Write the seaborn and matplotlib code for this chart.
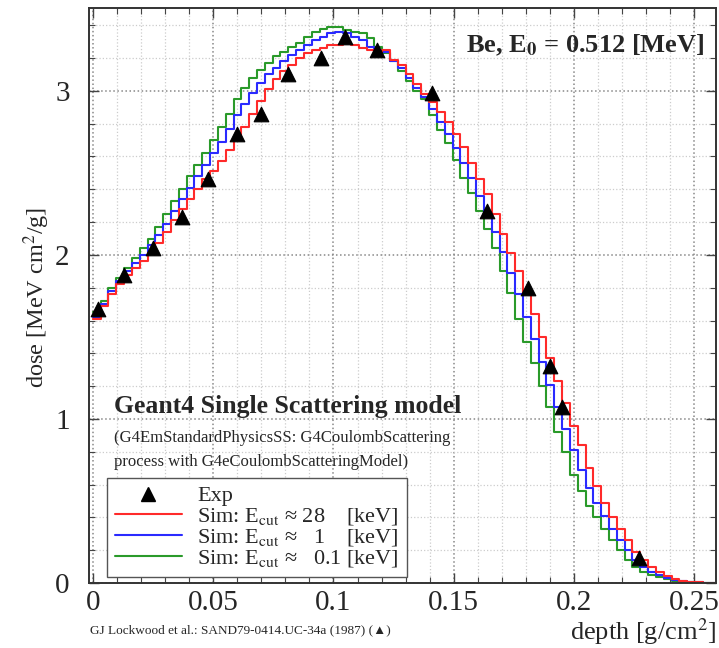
import numpy as np
import pandas as pd
import matplotlib
matplotlib.use("Agg")
import matplotlib.pyplot as plt
from matplotlib.lines import Line2D
from matplotlib.ticker import MultipleLocator
import seaborn as sns

# dose histograms, 80 bins over 0-0.26 g/cm2
depth_min, depth_max, n_bins = 0.0, 0.26, 80

dose_28keV = [1.61, 1.69, 1.76, 1.82, 1.88, 1.92, 1.96, 2.01, 2.07, 2.14,
              2.21, 2.28, 2.34, 2.40, 2.46, 2.51, 2.57, 2.64, 2.71, 2.78,
              2.86, 2.94, 3.01, 3.07, 3.12, 3.16, 3.20, 3.23, 3.25, 3.26,
              3.28, 3.28, 3.29, 3.28, 3.26, 3.25, 3.24, 3.25, 3.19, 3.16,
              3.10, 3.04, 2.98, 2.93, 2.87, 2.81, 2.74, 2.66, 2.56, 2.46,
              2.37, 2.25, 2.13, 2.01, 1.90, 1.77, 1.64, 1.50, 1.37, 1.23,
              1.10, 0.96, 0.84, 0.70, 0.59, 0.49, 0.40, 0.33, 0.26, 0.19,
              0.14, 0.10, 0.065, 0.040, 0.025, 0.015, 0.009, 0.005, 0.003, 0.002]

dose_1keV = [1.62, 1.70, 1.78, 1.84, 1.90, 1.95, 2.00, 2.06, 2.12, 2.19,
             2.27, 2.34, 2.41, 2.48, 2.55, 2.62, 2.69, 2.77, 2.85, 2.92,
             2.99, 3.05, 3.10, 3.14, 3.18, 3.22, 3.25, 3.28, 3.31, 3.33,
             3.35, 3.36, 3.35, 3.33, 3.31, 3.27, 3.25, 3.24, 3.18, 3.14,
             3.08, 3.02, 2.96, 2.89, 2.81, 2.74, 2.65, 2.56, 2.47, 2.36,
             2.26, 2.14, 2.02, 1.89, 1.76, 1.62, 1.49, 1.35, 1.21, 1.07,
             0.94, 0.81, 0.69, 0.58, 0.49, 0.41, 0.33, 0.26, 0.20, 0.14,
             0.10, 0.07, 0.05, 0.03, 0.02, 0.012, 0.007, 0.004, 0.002, 0.001]

dose_01keV = [1.65, 1.72, 1.80, 1.86, 1.92, 1.98, 2.04, 2.10, 2.17, 2.25,
              2.33, 2.40, 2.48, 2.55, 2.62, 2.70, 2.78, 2.86, 2.95, 3.02,
              3.08, 3.13, 3.17, 3.21, 3.24, 3.27, 3.29, 3.33, 3.36, 3.38,
              3.39, 3.39, 3.37, 3.36, 3.35, 3.32, 3.27, 3.23, 3.18, 3.12,
              3.06, 3.00, 2.95, 2.85, 2.76, 2.68, 2.58, 2.47, 2.38, 2.27,
              2.16, 2.04, 1.90, 1.77, 1.61, 1.47, 1.34, 1.20, 1.07, 0.92,
              0.80, 0.66, 0.56, 0.47, 0.40, 0.33, 0.26, 0.20, 0.14, 0.10,
              0.07, 0.05, 0.035, 0.022, 0.014, 0.009, 0.005, 0.003, 0.002, 0.001]

# experiment (Lockwood et al.)
exp_depth = [0.002, 0.013, 0.025, 0.037, 0.048, 0.060, 0.070, 0.081, 0.095,
             0.105, 0.118, 0.141, 0.164, 0.181, 0.190, 0.195, 0.227]
exp_dose = [1.67, 1.88, 2.04, 2.23, 2.46, 2.74, 2.86, 3.10, 3.20,
            3.33, 3.25, 2.99, 2.27, 1.80, 1.32, 1.07, 0.15]

sim_labels = [r"Sim: E$_{\rm cut}$ ≈ 28    [keV]",
              r"Sim: E$_{\rm cut}$ ≈   1    [keV]",
              r"Sim: E$_{\rm cut}$ ≈   0.1 [keV]"]
sim_colors = ["#ff2a2a", "#2a2aff", "#2a9a2a"]

sns.set_style("ticks")
plt.rcParams['font.family'] = ['Liberation Serif', 'DejaVu Serif']
plt.rcParams['mathtext.fontset'] = 'stix'

fig = plt.figure(figsize=(7.19, 6.48), dpi=100)
ax = fig.add_axes([0.124, 0.1003, 0.872, 0.8873])

edges = np.linspace(depth_min, depth_max, n_bins + 1)
centers = 0.5 * (edges[:-1] + edges[1:])

# draw green first so red ends up on top like the original
for vals, col in zip([dose_01keV, dose_1keV, dose_28keV], sim_colors[::-1]):
    df = pd.DataFrame({"depth": centers, "dose": vals})
    sns.histplot(data=df, x="depth", weights="dose", bins=n_bins,
                 binrange=(depth_min, depth_max), element="step", fill=False,
                 color=col, linewidth=1.5, ax=ax)

sns.scatterplot(x=exp_depth, y=exp_dose, marker="^", color="black", s=110,
                edgecolor="black", zorder=5, ax=ax)

ax.set_xlim(-0.0015, 0.259)
ax.set_ylim(0, 3.505)
ax.xaxis.set_major_locator(MultipleLocator(0.05))
ax.xaxis.set_minor_locator(MultipleLocator(0.01))
ax.yaxis.set_major_locator(MultipleLocator(1))
ax.yaxis.set_minor_locator(MultipleLocator(0.2))
ax.xaxis.set_major_formatter(lambda v, p: "0" if abs(v) < 1e-9 else f"{v:g}")
ax.tick_params(which="both", direction="in", top=True, right=True, labelsize=21,
               color="#444444")
ax.tick_params(which="major", length=7, width=1)
ax.tick_params(which="minor", length=4, width=0.8)
ax.tick_params(axis="x", pad=5)
ax.tick_params(axis="y", pad=14)
ax.grid(which="major", linestyle=":", color="#888888", linewidth=1.1)
ax.grid(which="minor", linestyle=":", color="#cccccc", linewidth=0.9)
ax.set_axisbelow(True)
for sp in ax.spines.values():
    sp.set_linewidth(1.4)
    sp.set_color("#333333")

ax.set_ylabel(r"dose [MeV cm$^2$/g]", fontsize=17.5)
ax.yaxis.set_label_coords(-0.060, 0.497)
ax.set_xlabel("")
fig.text(0.895, 0.012, r"depth [g/cm$^2$]", fontsize=19, ha="center", va="baseline")
fig.text(0.125, 0.022, "GJ Lockwood et al.: SAND79-0414.UC-34a (1987) (▲)",
         fontsize=9.5, family=['Liberation Serif', 'DejaVu Sans'], va="baseline")

ax.text(0.982, 0.957, r"Be, E$_\mathbf{0}$ = 0.512 [MeV]", transform=ax.transAxes,
        ha="right", va="top", fontsize=19, fontweight="bold")
ax.text(0.04, 0.295, "Geant4 Single Scattering model", transform=ax.transAxes,
        fontsize=18.5, fontweight="bold")
ax.text(0.04, 0.245, "(G4EmStandardPhysicsSS: G4CoulombScattering",
        transform=ax.transAxes, fontsize=12)
ax.text(0.04, 0.203, "process with G4eCoulombScatteringModel)",
        transform=ax.transAxes, fontsize=12)

handles = [Line2D([], [], marker="^", color="black", linestyle="none", markersize=10)]
handles += [Line2D([], [], color=c, linewidth=1.5) for c in sim_colors]
labels = ["Exp"] + sim_labels
leg = ax.legend(handles, labels, loc="lower left", bbox_to_anchor=(0.029, 0.01),
                fontsize=16, frameon=True, fancybox=False, edgecolor="#555555",
                framealpha=1, handlelength=3.0, labelspacing=0.0,
                borderpad=0.35, handletextpad=0.7, borderaxespad=0)
leg.get_frame().set_linewidth(1.0)

fig.savefig("out.png", dpi=100)
